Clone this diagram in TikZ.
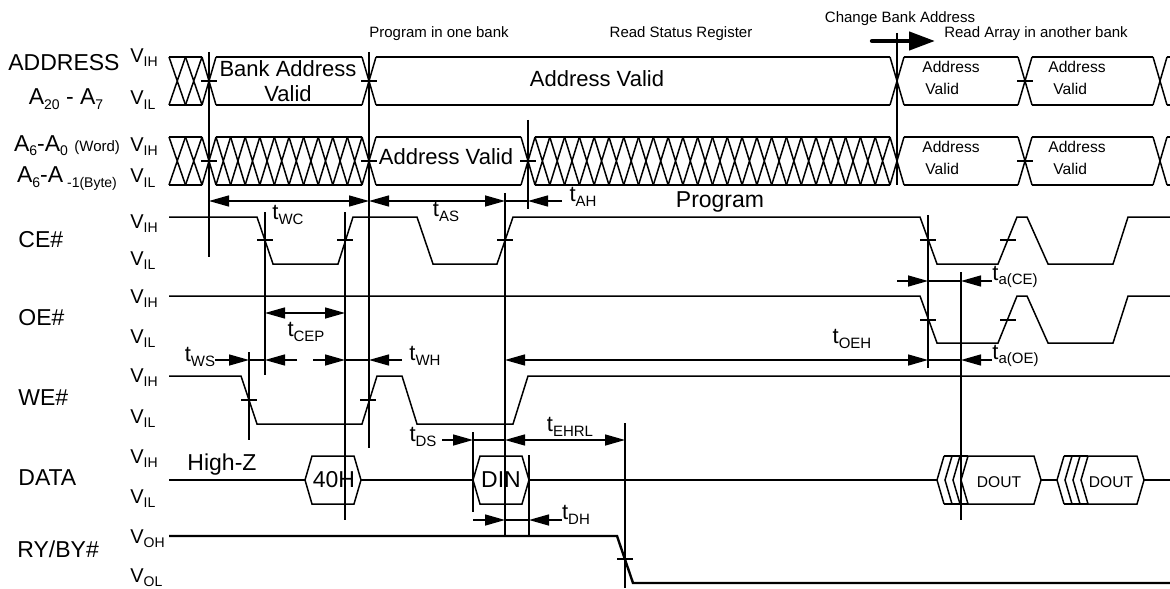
\documentclass[tikz,border=0pt]{standalone}
\usepackage{fontspec}
\setmainfont{Liberation Sans}
\usetikzlibrary{arrows.meta}

\newcommand{\lo}[1]{\raisebox{-2pt}{\fontsize{7}{8}\selectfont #1}}
\newcommand{\tlbl}[1]{{\fontsize{11}{12}\selectfont t}\raisebox{-2.2pt}{\fontsize{7.5}{8}\selectfont #1}}
\newcommand{\vlbl}[1]{{\fontsize{10}{11}\selectfont V}\lo{#1}}
% hatched (invalid) bus: x1, x2, ytop, ybot
\newcommand{\hatch}[4]{%
  \pgfmathtruncatemacro\nc{round((#2-#1)/15)}%
  \pgfmathsetmacro\cw{(#2-#1)/\nc}%
  \foreach \i in {1,...,\nc}{%
    \draw[wave] ({#1+\cw*(\i-1)},#3) -- ({#1+\cw*\i},#4)
                ({#1+\cw*(\i-1)},#4) -- ({#1+\cw*\i},#3);}%
  \draw[wave] (#1,#3) -- (#2,#3) (#1,#4) -- (#2,#4);}
% bus crossing: x, ytop, ybot
\newcommand{\xing}[3]{\draw[wave] (#1-7,#2) -- (#1+7,#3) (#1-7,#3) -- (#1+7,#2);}
% valid bus span: x1, x2, ytop, ybot
\newcommand{\busv}[4]{\draw[wave] (#1,#3) -- (#2,#3) (#1,#4) -- (#2,#4);}
% level mark on an edge
\newcommand{\mk}[2]{\draw[wave] (#1-8,#2) -- (#1+8,#2);}
% data hexagon and chevron
\newcommand{\hexa}[2]{\draw[wave] (#1,480) -- (#1+7,456) -- (#2-7,456) -- (#2,480) -- (#2-7,504) -- (#1+7,504) -- cycle;}
\newcommand{\chev}[1]{\draw[wave] (#1+7,456) -- (#1,480) -- (#1+7,504);}

\begin{document}
\begin{tikzpicture}[x=0.5pt, y=-0.5pt,
  wave/.style={line width=0.75pt},
  guide/.style={line width=0.75pt},
  dima/.style={line width=0.75pt, -{Triangle[length=10pt, width=5.5pt]}},
  dimb/.style={line width=0.75pt, {Triangle[length=10pt, width=5.5pt]}-{Triangle[length=10pt, width=5.5pt]}},
  sigl/.style={font=\fontsize{11.5}{13}\selectfont, inner sep=0pt},
  note/.style={font=\fontsize{7.5}{9}\selectfont, inner sep=0pt},
  boxt/.style={font=\fontsize{7.8}{9}\selectfont, inner sep=0pt, anchor=base west},
  vl/.style={inner sep=0pt, anchor=base west},
  tl/.style={inner sep=0pt}]
\useasboundingbox (0,0) rectangle (1170,588);

% signal names
\node[sigl, anchor=base] (addr) at (64,71) {ADDRESS};
\node[sigl, anchor=base] (ahi) at (66,105) {A\lo{20} - A\lo{7}};
\node[sigl, anchor=base] (aword) at (67,152) {A\lo{6}-A\lo{0} {\fontsize{7.5}{8}\selectfont (Word)}};
\node[sigl, anchor=base] (abyte) at (67,183) {A\lo{6}-A\lo{\ -1(Byte)}};
\node[sigl, anchor=base west] (ce) at (18,247) {CE\#};
\node[sigl, anchor=base west] (oe) at (18,325) {OE\#};
\node[sigl, anchor=base west] (we) at (18,405) {WE\#};
\node[sigl, anchor=base west] (data) at (18,485) {DATA};
\node[sigl, anchor=base west] (ryby) at (17,557) {RY/BY\#};

% levels
\node[vl] (v1) at (130,63) {\vlbl{IH}};
\node[vl] (v2) at (130,105) {\vlbl{IL}};
\node[vl] (v3) at (130,152) {\vlbl{IH}};
\node[vl] (v4) at (130,183) {\vlbl{IL}};
\node[vl] (v5) at (130,228) {\vlbl{IH}};
\node[vl] (v6) at (130,265) {\vlbl{IL}};
\node[vl] (v7) at (130,303) {\vlbl{IH}};
\node[vl] (v8) at (130,343) {\vlbl{IL}};
\node[vl] (v9) at (130,382) {\vlbl{IH}};
\node[vl] (v10) at (130,423) {\vlbl{IL}};
\node[vl] (v11) at (130,463) {\vlbl{IH}};
\node[vl] (v12) at (130,503) {\vlbl{IL}};
\node[vl] (v13) at (130,543) {\vlbl{OH}};
\node[vl] (v14) at (130,582) {\vlbl{OL}};

% phases
\node[note, anchor=base] (ph1) at (439,38) {Program in one bank};
\node[note, anchor=base] (ph2) at (681,38) {Read Status Register};
\node[note, anchor=base] (ph3) at (900,23) {Change Bank Address};
\node[note, anchor=base] (ph4) at (1036,38) {Read Array in another bank};
\draw[line width=2.2pt, line cap=round, -{Triangle[length=13pt, width=9pt]}] (872,41) -- (935,41);

% ADDRESS A20-A7
\hatch{169}{202}{57}{105}
\xing{209}{57}{105}
\busv{216}{362}{57}{105}
\xing{369}{57}{105}
\busv{376}{890}{57}{105}
\xing{897}{57}{105}
\busv{904}{1018}{57}{105}
\xing{1025}{57}{105}
\busv{1032}{1153}{57}{105}
\xing{1160}{57}{105}
\busv{1167}{1170}{57}{105}
\node[font=\fontsize{11}{13}\selectfont, inner sep=0pt, anchor=base] (bav1) at (288,77) {Bank Address};
\node[font=\fontsize{11}{13}\selectfont, inner sep=0pt, anchor=base] (bav2) at (288,102) {Valid};
\node[font=\fontsize{11}{13}\selectfont, inner sep=0pt, anchor=base] (av1) at (597,87) {Address Valid};
\node[boxt] (av2) at (922,73) {Address};
\node[boxt] (av3) at (925,95) {Valid};
\node[boxt] (av4) at (1048,73) {Address};
\node[boxt] (av5) at (1053,95) {Valid};

% A6-A0 / A-1
\hatch{169}{202}{137}{185}
\xing{209}{137}{185}
\hatch{216}{362}{137}{185}
\xing{369}{137}{185}
\busv{376}{521}{137}{185}
\xing{528}{137}{185}
\hatch{535}{890}{137}{185}
\xing{897}{137}{185}
\busv{904}{1018}{137}{185}
\xing{1025}{137}{185}
\busv{1032}{1153}{137}{185}
\xing{1160}{137}{185}
\busv{1167}{1170}{137}{185}
\node[font=\fontsize{11}{13}\selectfont, inner sep=0pt, anchor=base] (av6) at (446,165) {Address Valid};
\node[boxt] (av7) at (922,153) {Address};
\node[boxt] (av8) at (925,175) {Valid};
\node[boxt] (av9) at (1048,153) {Address};
\node[boxt] (av10) at (1053,175) {Valid};

% CE#, OE#, WE#
\draw[wave] (169,217) -- (257,217) -- (273,264) -- (338,264) -- (353,217) -- (417,217) -- (433,264) -- (497,264) -- (513,217)
  -- (920,217) -- (937,264) -- (998,264) -- (1017,217) -- (1027,217) -- (1048,264) -- (1113,264) -- (1128,217) -- (1170,217);
\draw[wave] (169,296) -- (920,296) -- (937,343) -- (998,343) -- (1017,296) -- (1027,296) -- (1048,343) -- (1113,343) -- (1128,296) -- (1170,296);
\draw[wave] (169,376) -- (241,376) -- (257,424) -- (362,424) -- (377,376) -- (402,376) -- (417,424) -- (513,424) -- (528,376) -- (1170,376);
\node[sigl, anchor=base] (prog) at (720,207) {Program};

% DATA
\draw[wave] (169,480) -- (305,480) (361,480) -- (473,480) (529,480) -- (937,480) (1041,480) -- (1057,480) (1144,480) -- (1170,480);
\hexa{305}{361}
\hexa{473}{529}
\chev{937} \chev{945} \chev{953}
\draw[wave] (944,456) -- (968,456) (944,504) -- (968,504);
\hexa{961}{1041}
\chev{1057} \chev{1065} \chev{1073}
\draw[wave] (1064,456) -- (1088,456) (1064,504) -- (1088,504);
\hexa{1081}{1144}
\node[sigl, anchor=base] (hiz) at (222,470) {High-Z};
\node[sigl, anchor=base] (d40) at (334,487) {40H};
\node[sigl, anchor=base] (din) at (501,487) {DIN};
\node[font=\fontsize{7.8}{9}\selectfont, inner sep=0pt, anchor=base] (dout1) at (999,487) {DOUT};
\node[font=\fontsize{7.8}{9}\selectfont, inner sep=0pt, anchor=base] (dout2) at (1111,487) {DOUT};

% RY/BY#
\draw[line width=1.2pt] (169,536) -- (617,536) -- (633,583) -- (1170,583);

% level marks
\mk{209}{81} \mk{369}{81} \mk{1025}{81}
\mk{209}{161} \mk{369}{161} \mk{528}{161} \mk{1025}{161}
\mk{265}{240} \mk{345}{240} \mk{505}{240} \mk{928}{240} \mk{1008}{240}
\mk{928}{320} \mk{1008}{320}
\mk{249}{400} \mk{368}{400}
\mk{625}{559}

% reference lines
\foreach \x/\ya/\yb in {209/52/257, 369/52/448, 528/120/209, 897/33/185, 265/212/375, 345/212/520,
  505/193/535, 249/352/440, 473/432/512, 529/455/535, 625/423/588, 928/215/368, 961/272/520}
  \draw[guide] (\x,\ya) -- (\x,\yb);

% timing
\draw[dimb] (209,201) -- (369,201);
\draw[dimb] (369,201) -- (505,201);
\draw[guide] (505,201) -- (528,201);
\draw[dima] (562,201) -- (528,201);
\node[tl] (twc) at (288,215) {\tlbl{WC}};
\node[tl] (tas) at (446,212) {\tlbl{AS}};
\node[tl] (tah) at (583,197) {\tlbl{AH}};

\draw[dimb] (265,313) -- (345,313);
\node[tl] (tcep) at (306,332) {\tlbl{CEP}};

\draw[dima] (215,360) -- (249,360);
\draw[guide] (249,360) -- (265,360);
\draw[dima] (297,360) -- (265,360);
\draw[dima] (313,360) -- (345,360);
\draw[guide] (345,360) -- (369,360);
\draw[dima] (402,360) -- (369,360);
\draw[dimb] (505,360) -- (928,360);
\draw[guide] (928,360) -- (961,360);
\draw[dima] (992,360) -- (961,360);
\node[tl] (tws) at (200,357) {\tlbl{WS}};
\node[tl] (twh) at (425,356) {\tlbl{WH}};
\node[tl] (toeh) at (852,339) {\tlbl{OEH}};
\node[tl, anchor=west] (taoe) at (992,356) {\tlbl{a(OE)}};

\draw[dima] (897,281) -- (928,281);
\draw[guide] (928,281) -- (961,281);
\draw[dima] (992,281) -- (961,281);
\node[tl, anchor=west] (tace) at (992,277) {\tlbl{a(CE)}};

\draw[dima] (442,440) -- (473,440);
\draw[guide] (473,440) -- (505,440);
\draw[dimb] (505,440) -- (625,440);
\node[tl] (tds) at (423,437) {\tlbl{DS}};
\node[tl] (tehrl) at (570,427) {\tlbl{EHRL}};

\draw[dima] (473,520) -- (505,520);
\draw[guide] (505,520) -- (529,520);
\draw[dima] (562,520) -- (529,520);
\node[tl] (tdh) at (576,515) {\tlbl{DH}};
\end{tikzpicture}
\end{document}
